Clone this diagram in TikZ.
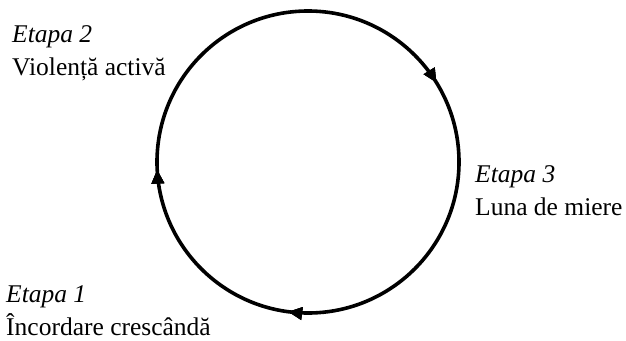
\documentclass[tikz,border=0pt]{standalone}
\usepackage{fontspec}
\setmainfont{Liberation Serif}
\usetikzlibrary{arrows.meta,decorations.markings}
\tikzset{
  lbl/.style={font=\fontsize{25.5}{33}\selectfont,align=left,inner sep=0pt,anchor=base west},
  cyc/.style={line width=3.6pt,draw=black},
  tip/.style={decoration={markings,mark=at position #1 with {\arrow{Triangle[length=14pt,width=12pt]}}},postaction={decorate}},
}
\begin{document}
\begin{tikzpicture}[x=1pt,y=-1pt]
  \useasboundingbox (0,0) rectangle (626,340);
  % ciclul
  \coordinate (c) at (308,162);
  \draw[cyc,tip=0.271,tip=0.492,tip=0.912] (c) circle[radius=151];
  % etape
  \node[lbl] (e2) at (12,75) {\textit{Etapa 2}\\Violență activă};
  \node[lbl] (e3) at (475,215) {\textit{Etapa 3}\\Luna de miere};
  \node[lbl] (e1) at (6,335) {\textit{Etapa 1}\\Încordare crescândă};
\end{tikzpicture}
\end{document}
